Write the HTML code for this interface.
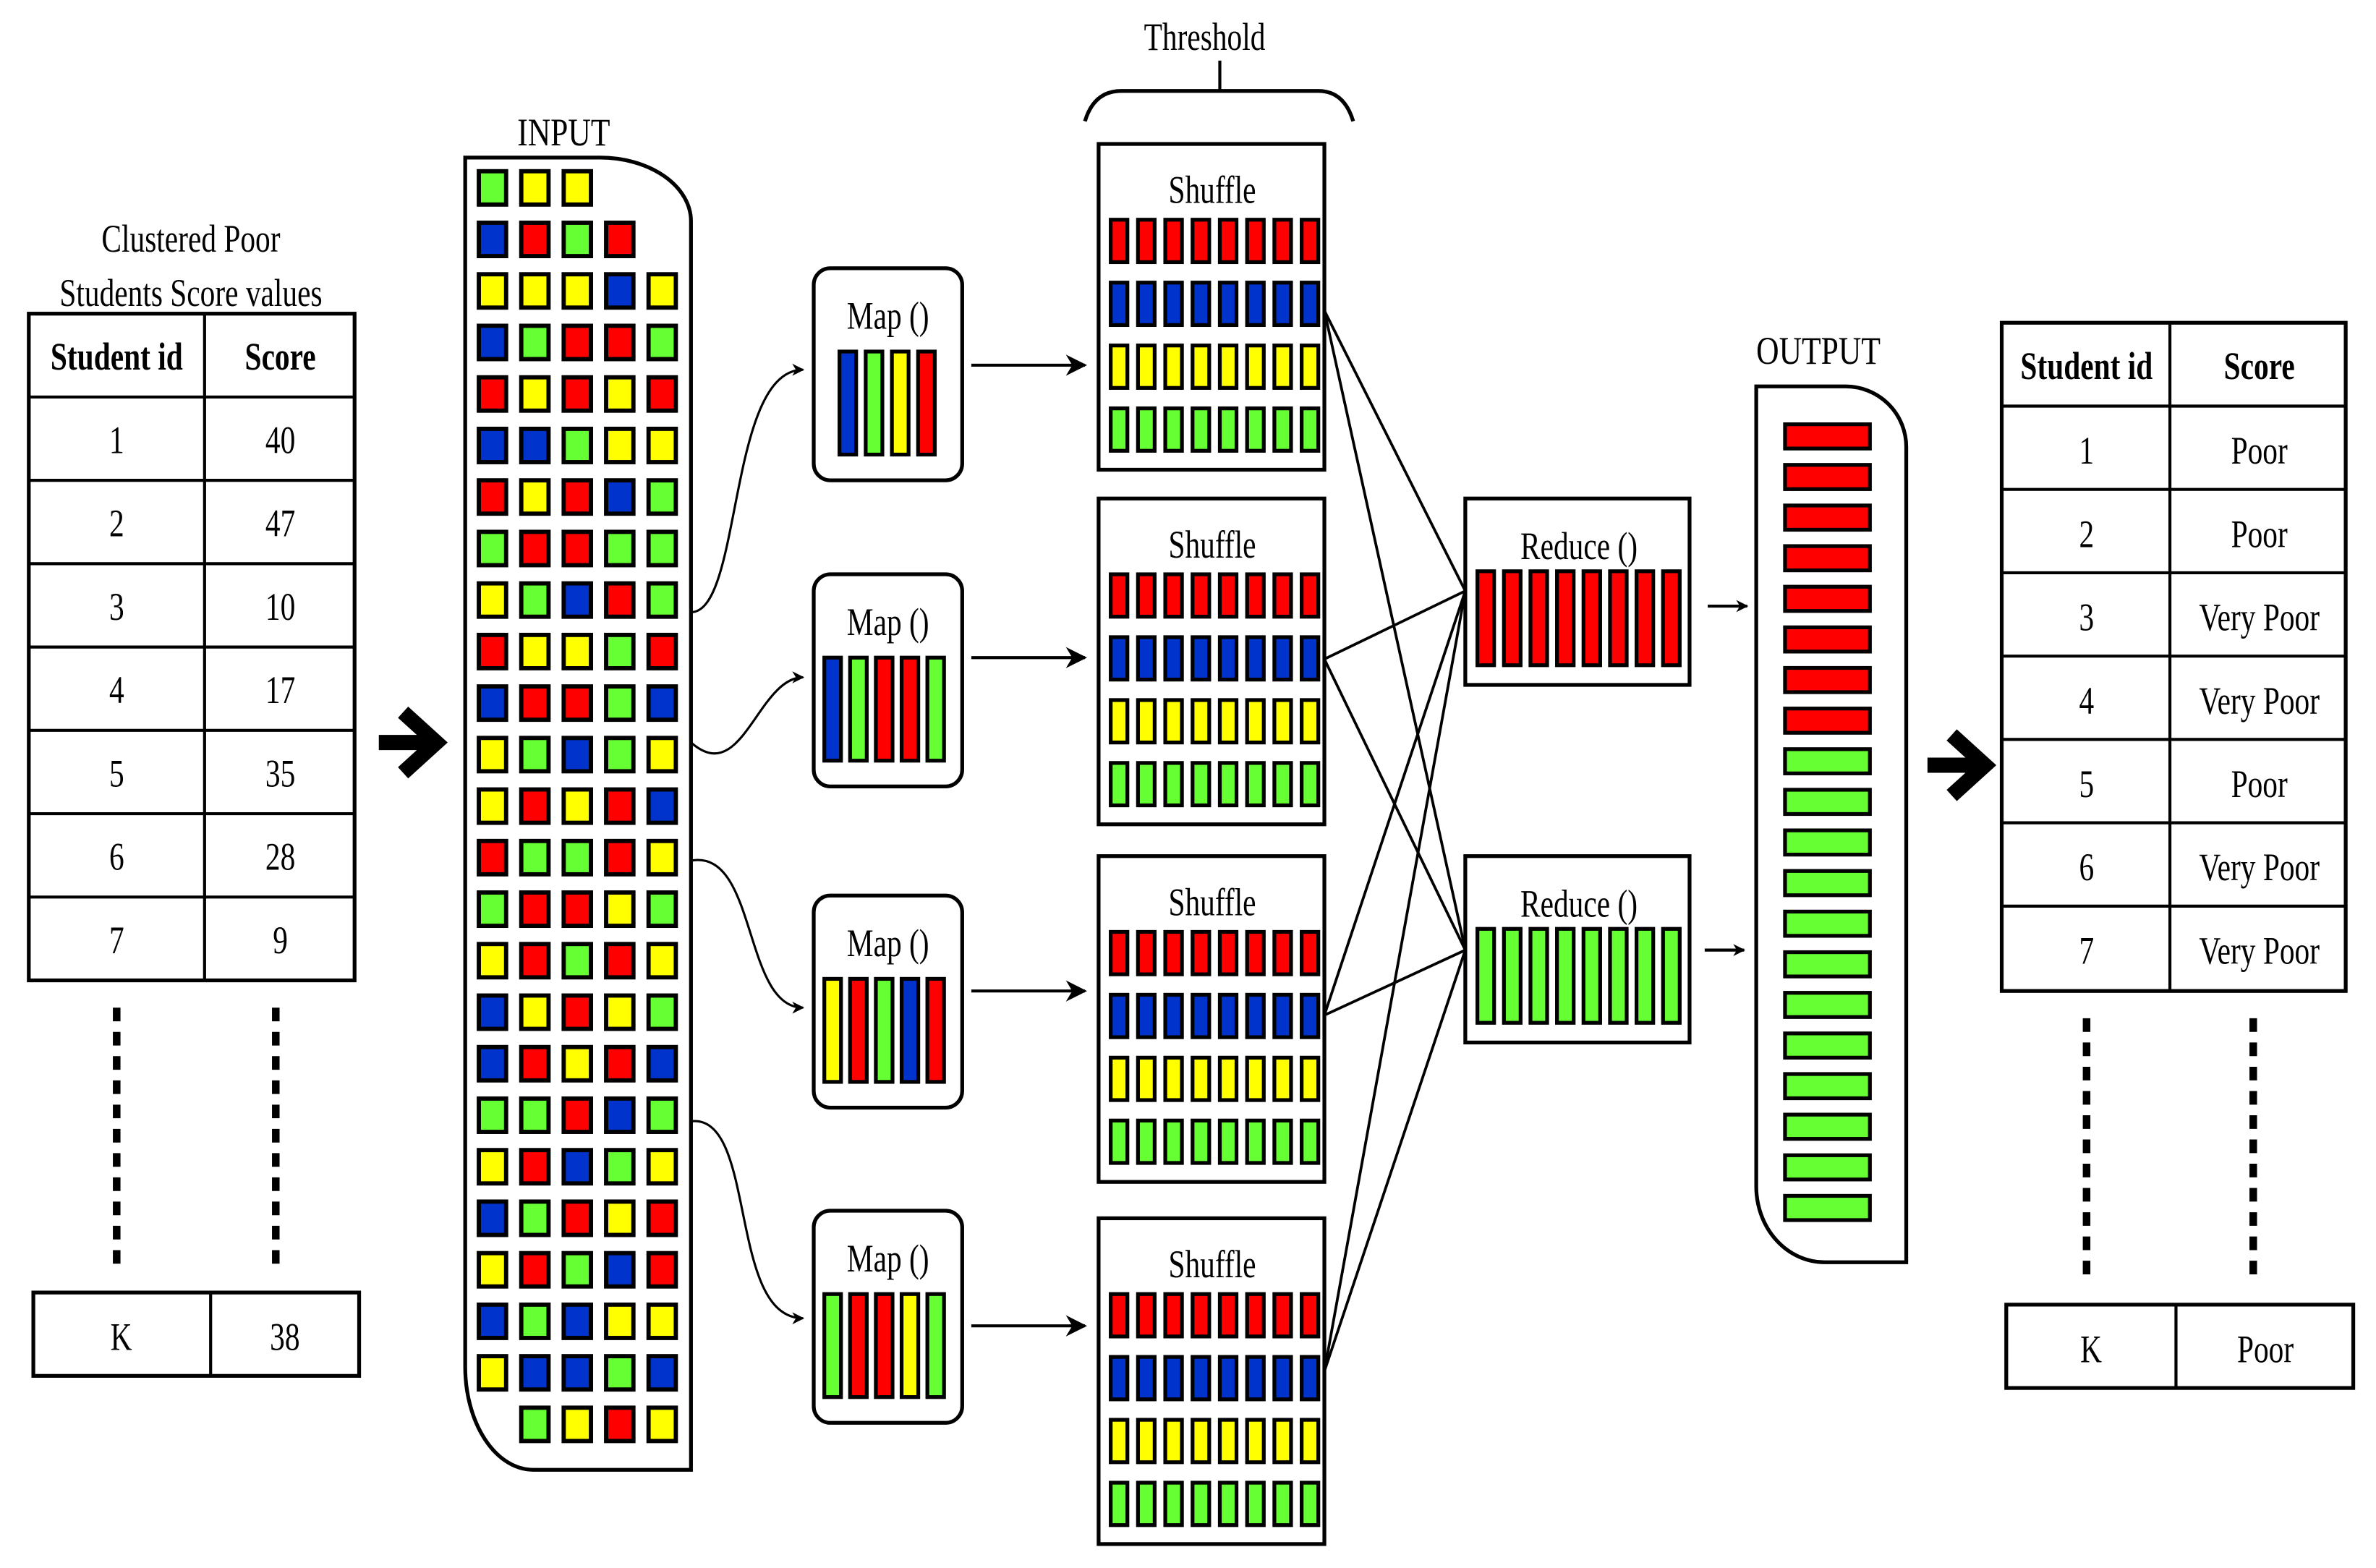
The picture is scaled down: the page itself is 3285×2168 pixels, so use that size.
<!DOCTYPE html>
<html><head><meta charset="utf-8">
<style>
html,body{margin:0;padding:0;background:#fff;}
svg{display:block;}
text{font-family:"Liberation Serif","DejaVu Serif",serif;fill:#000;}
</style></head>
<body>
<svg id="s" xmlns="http://www.w3.org/2000/svg" width="3285" height="2168" viewBox="0 0 1568 1034.8" preserveAspectRatio="none">
<rect width="1568" height="1035" fill="#fff"/>
<defs>
<marker id="ah" viewBox="0 0 10 10" refX="9" refY="5" markerWidth="8" markerHeight="8" orient="auto" markerUnits="userSpaceOnUse">
<path d="M0,0 L10,5 L0,10 L3,5 z" fill="#000"/></marker>
<marker id="ah2" viewBox="0 0 10 10" refX="9" refY="5" markerWidth="14" markerHeight="14" orient="auto" markerUnits="userSpaceOnUse">
<path d="M0,0 L10,5 L0,10 L3,5 z" fill="#000"/></marker>
</defs>
<g id="g"></g>
</svg>
<script>
var g=document.getElementById('g'),h='';
var C={R:'#ff0000',G:'#66ff33',Y:'#ffff00',B:'#0033cc'};
function T(x,y,s,t,b,sx){sx=sx||0.76;h+='<text transform="translate('+x+','+y+') scale('+sx+',1)" text-anchor="middle" font-size="'+s+'"'+(b?' font-weight="bold"':'')+'>'+t+'</text>';}
function R(x,y,w,hh,f,sw,rx){h+='<rect x="'+x+'" y="'+y+'" width="'+w+'" height="'+hh+'" fill="'+(f||'#fff')+'" stroke="#000" stroke-width="'+(sw||2)+'"'+(rx?' rx="'+rx+'"':'')+'/>';}
function L(x1,y1,x2,y2,sw,m){h+='<line x1="'+x1+'" y1="'+y1+'" x2="'+x2+'" y2="'+y2+'" stroke="#000" stroke-width="'+(sw||1.5)+'"'+(m?' marker-end="url(#'+m+')"':'')+'/>';}
function P(d,sw,m,f){h+='<path d="'+d+'" fill="'+(f||'none')+'" stroke="#000" stroke-width="'+(sw||1.5)+'"'+(m?' marker-end="url(#'+m+')"':'')+'/>';}

T(126,166,26,'Clustered Poor');T(126,202,26,'Students Score values');
R(19,207,215,440,'#fff',2.5);L(135,207,135,647,2);
for(var i=1;i<8;i++)L(19,207+55*i,234,207+55*i,2);
T(77,244,26,'Student id',1);T(185,244,26,'Score',1);
var sc=['40','47','10','17','35','28','9'];
for(i=0;i<7;i++){T(77,299+55*i,26,''+(i+1));T(185,299+55*i,26,sc[i]);}
h+='<line x1="77" y1="665" x2="77" y2="835" stroke="#000" stroke-width="5" stroke-dasharray="9,7"/>';
h+='<line x1="182" y1="665" x2="182" y2="835" stroke="#000" stroke-width="5" stroke-dasharray="9,7"/>';
R(22,853,215,55,'#fff',2.5);L(139,853,139,908,2);T(80,891,26,'K');T(188,891,26,'38');
function BA(x,y){P('M'+(x)+','+(y)+' L'+(x+32)+','+y,10);P('M'+(x+16)+','+(y-20)+' L'+(x+38)+','+y+' L'+(x+16)+','+(y+20),10);}
BA(250,490);BA(1272,505);

T(372,96,26,'INPUT',0,0.8);
P('M307,104 L396,104 A60,42 0 0 1 456,146 L456,970 L352,970 A45,68 0 0 1 307,902 Z',2.5);
var rows=['GYY','BRGR','YYYBY','BGRRG','RYRYR','BBGYY','RYRBG','GRRGG','YGBRG','RYYGR','BRRGB','YGBGY','YRYRB','RGGRY','GRRYG','YRGRY','BYRYG','BRYRB','GGRBG','YRBGY','BGRYR','YRGBR','BGBYY','YBBGB',' GYRY'];
var cx=[325,353,381,409,437];
for(i=0;i<25;i++){var r=rows[i];for(var j=0;j<r.length;j++){if(r[j]==' ')continue;R(cx[j]-9,124+34*i-11,18,22,C[r[j]],2.8);}}

P('M456,404 C490,404 480,244 530,244',1.5,'ah');
P('M456,490 C490,520 500,447 530,447',1.5,'ah');
P('M456,568 C500,560 490,665 530,665',1.5,'ah');
P('M456,740 C500,735 480,870 530,870',1.5,'ah');

var maps=[[177,'BGYR'],[379,'BGRRG'],[591,'YRGBR'],[799,'GRRYG']];
maps.forEach(function(m){var y=m[0];R(537,y,98,140,'#fff',2.5,11);T(586,y+40,26,'Map ()');
var n=m[1].length,w=11,gap=n==4?17.3:17,x0=n==4?554:544;
for(var k=0;k<n;k++)R(x0+gap*k,y+55,w,68,C[m[1][k]],2.5);});
[241,434,654,875].forEach(function(y){L(641,y,716,y,2,'ah2');});

T(795,33,26,'Threshold');
P('M716,80 Q722,60 740,60 L870,60 Q887,60 893,80',2.5);L(805,60,805,40,2);

var sh=[95,329,565,804];var rc=['R','B','Y','G'];
sh.forEach(function(y){R(725,y,149,215,'#fff',2.5);T(800,y+39,26,'Shuffle');
for(var r=0;r<4;r++)for(var k=0;k<8;k++)R(733+18*k,y+50+41.5*r,11,28,C[rc[r]],2.5);});

var rd=[[329,'R'],[565,'G']];
rd.forEach(function(m){var y=m[0];R(967,y,148,123,'#fff',2.5);T(1042,y+40,26,'Reduce ()');
for(var k=0;k<8;k++)R(975+17.5*k,y+48,11,62,C[m[1]],2.5);});
[[874,205],[874,435],[874,670],[874,905]].forEach(function(p){L(p[0],p[1],967,390,1.8);L(p[0],p[1],967,627,1.8);});
L(1127,400,1153,400,2,'ah');L(1125,627,1151,627,2,'ah');

T(1200,240,26,'OUTPUT',0,0.8);
P('M1159,255 L1218,255 A40,40 0 0 1 1258,295 L1258,833 L1204,833 A45,50 0 0 1 1159,783 Z',2.5);
for(i=0;i<20;i++){R(1178,280+26.8*i,56,16,i<8?C.R:C.G,2.5);}

R(1321,213,227,441,'#fff',2.5);L(1432,213,1432,654,2);
for(i=1;i<8;i++)L(1321,213+55*i,1548,213+55*i,2);
T(1377,250,26,'Student id',1);T(1491,250,26,'Score',1);
var gr=['Poor','Poor','Very Poor','Very Poor','Poor','Very Poor','Very Poor'];
for(i=0;i<7;i++){T(1377,306+55*i,26,''+(i+1));T(1491,306+55*i,26,gr[i]);}
h+='<line x1="1377" y1="672" x2="1377" y2="843" stroke="#000" stroke-width="5" stroke-dasharray="9,7"/>';
h+='<line x1="1487" y1="672" x2="1487" y2="843" stroke="#000" stroke-width="5" stroke-dasharray="9,7"/>';
R(1324,861,229,55,'#fff',2.5);L(1436,861,1436,916,2);T(1380,899,26,'K');T(1495,899,26,'Poor');
g.innerHTML=h;
</script>
</body></html>
